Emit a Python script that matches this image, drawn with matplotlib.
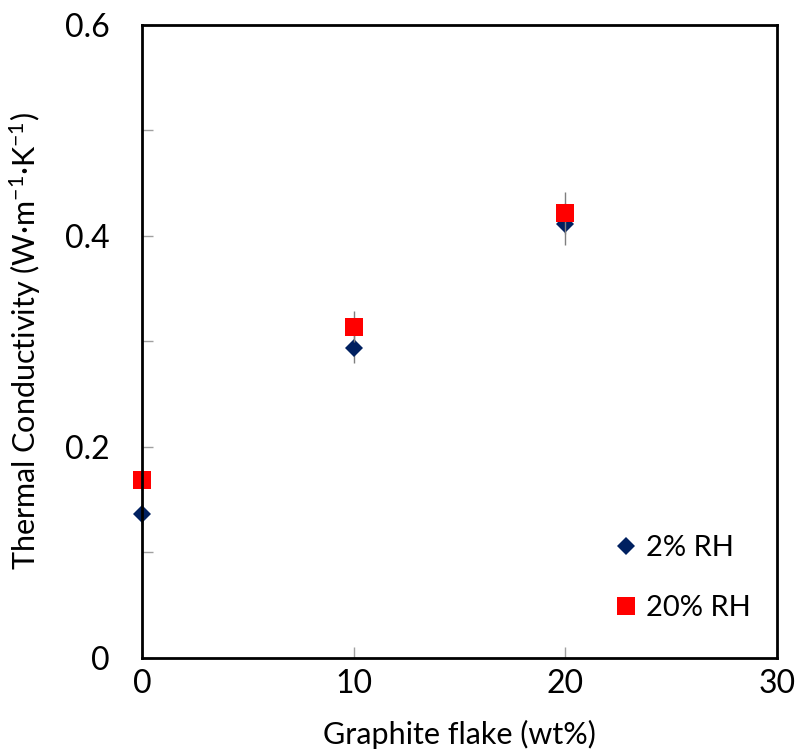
import matplotlib
matplotlib.use('Agg')
import matplotlib.pyplot as plt
from matplotlib.ticker import MultipleLocator, FuncFormatter

plt.rcParams['font.family'] = ['Lato', 'DejaVu Sans']
plt.rcParams['mathtext.fontset'] = 'custom'
plt.rcParams['mathtext.rm'] = 'Lato'
plt.rcParams['mathtext.it'] = 'Lato'

# Datos
grafito = [0, 10, 20]
rh2 = [0.136, 0.294, 0.411]
rh2_err = [0.01, 0.014, 0.02]
rh20 = [0.169, 0.314, 0.422]
rh20_err = [0.01, 0.015, 0.02]

fig = plt.figure(figsize=(8.01, 7.52), dpi=100)
ax = fig.add_axes([0.1773, 0.125, 0.793, 0.842])

ax.errorbar(grafito, rh2, yerr=rh2_err, fmt='D', color='#002060', markersize=9,
            ecolor='#7f7f7f', elinewidth=1, capsize=4, capthick=1,
            markeredgewidth=0, label='2% RH', clip_on=False, zorder=3)
ax.errorbar(grafito, rh20, yerr=rh20_err, fmt='s', color='#ff0000', markersize=13,
            ecolor='#7f7f7f', elinewidth=1, capsize=4, capthick=1,
            markeredgewidth=0, label='20% RH', clip_on=False, zorder=4)

ax.set_xlim(0, 30)
ax.set_ylim(0, 0.6)
ax.xaxis.set_major_locator(MultipleLocator(10))
ax.yaxis.set_major_locator(MultipleLocator(0.1))
ax.yaxis.set_major_formatter(FuncFormatter(
    lambda v, p: ('0' if abs(v) < 1e-9 else f'{v:.1f}') if round(v * 10) % 2 == 0 else ''))

ax.tick_params(direction='in', length=8, width=1, color='#a0a0a0', labelsize=23)
ax.tick_params(axis='x', pad=8)
ax.tick_params(axis='y', pad=23)
for s in ax.spines.values():
    s.set_linewidth(2)
    s.set_zorder(5)

ax.set_xlabel('Graphite flake (wt%)', fontsize=22, labelpad=15)
ax.set_ylabel('Thermal Conductivity (W·m$^{\\mathrm{-1}}$·K$^{\\mathrm{-1}}$)', fontsize=22, labelpad=16)

handles, labels = ax.get_legend_handles_labels()
handles = [h[0] for h in handles]
ax.legend(handles, labels, loc='lower right', frameon=False, fontsize=21,
          labelspacing=1.15, handletextpad=0.2, handlelength=1.0,
          bbox_to_anchor=(1.0, 0.017))

fig.savefig('out.png', dpi=100)
